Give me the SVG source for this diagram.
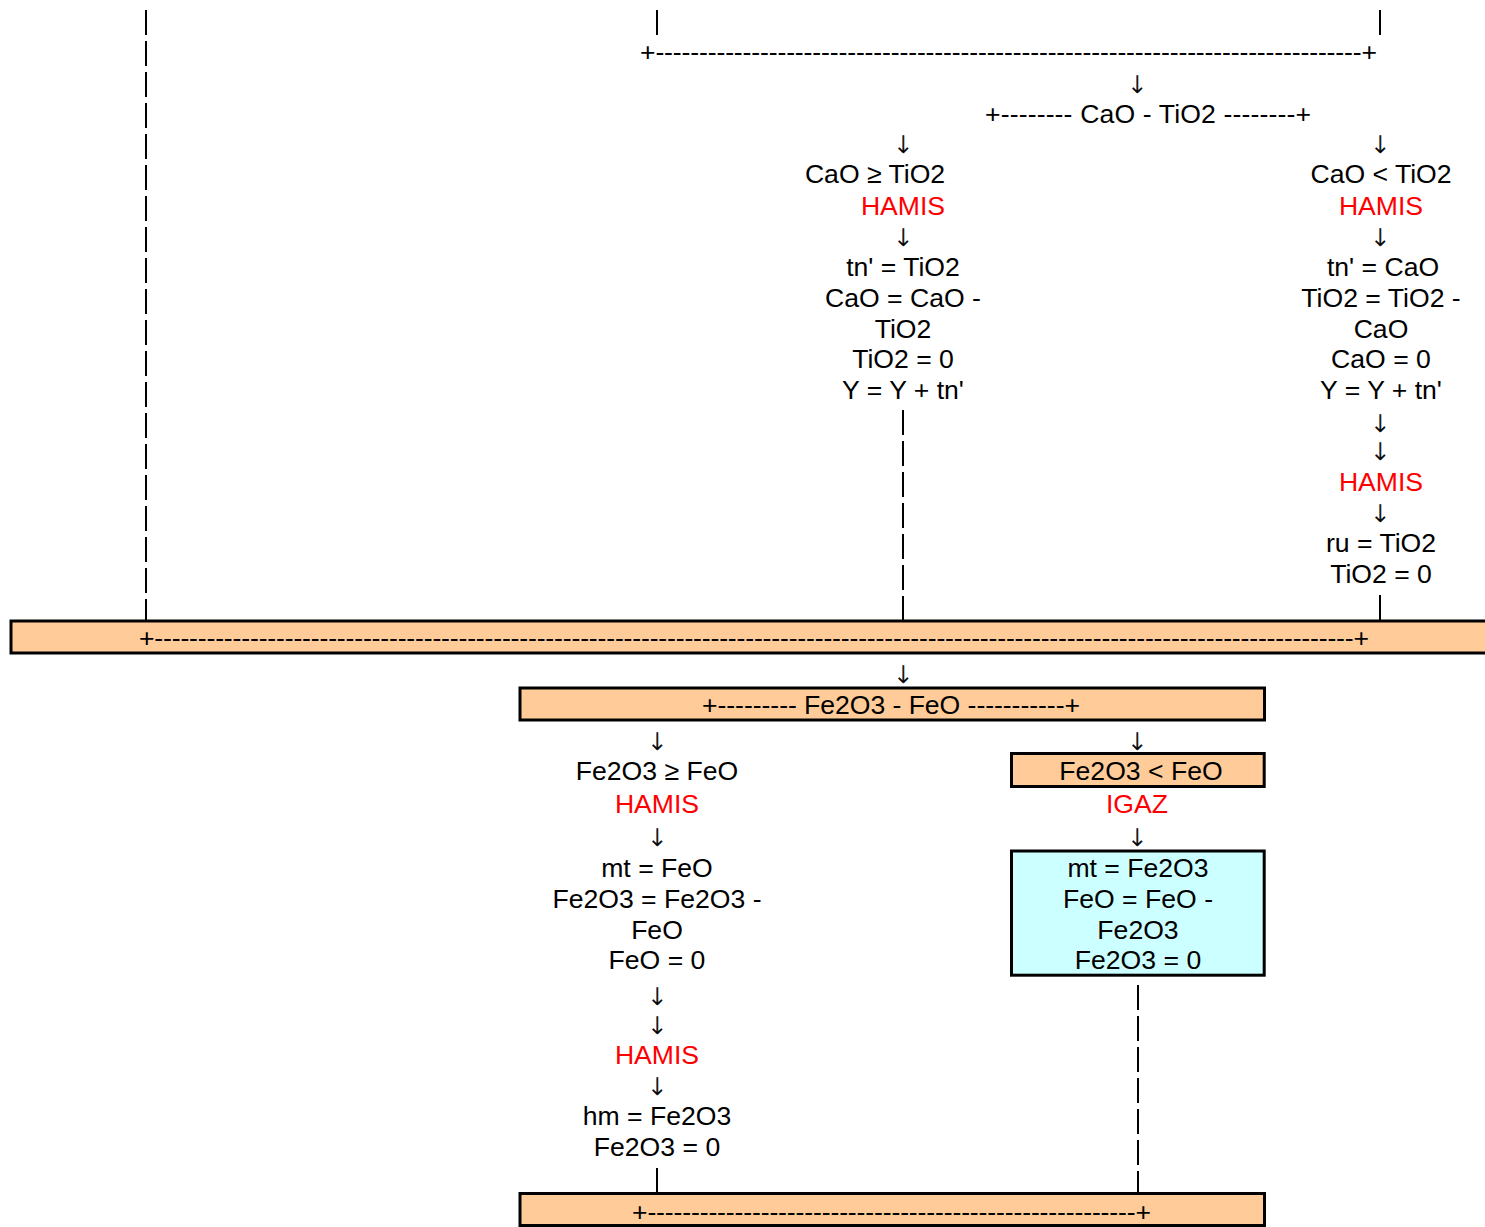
<svg xmlns="http://www.w3.org/2000/svg" width="1485" height="1227" viewBox="0 0 1485 1227">
<style>
text{font-family:"Liberation Sans",Arial,sans-serif;font-size:26.6px;fill:#000;text-anchor:middle}
.r{fill:#FF0000}
.l{text-anchor:start}
.a{font-family:"DejaVu Sans",sans-serif;font-size:24px;font-weight:200;fill:#000;stroke:#000;stroke-width:0.5}
.bar{stroke:#000;stroke-width:2;stroke-dasharray:25 6;fill:none}
.ob{fill:#FFCC99;stroke:#000;stroke-width:3}
.cb{fill:#CCFFFF;stroke:#000;stroke-width:3}
</style>
<rect width="1485" height="1227" fill="#fff"/>
<g id="connectors">
<line class="bar" x1="146" y1="10" x2="146" y2="620"/>
<line class="bar" x1="657" y1="10" x2="657" y2="35"/>
<line class="bar" x1="1380" y1="10" x2="1380" y2="35"/>
<line class="bar" x1="903" y1="410" x2="903" y2="620"/>
<line class="bar" x1="1380" y1="595" x2="1380" y2="620"/>
<line class="bar" x1="657" y1="1168" x2="657" y2="1193"/>
<line class="bar" x1="1138" y1="985" x2="1138" y2="1193"/>
<text class="a" x="1137" y="93">↓</text>
<text class="a" x="903" y="153">↓</text>
<text class="a" x="1380" y="153">↓</text>
<text class="a" x="903" y="246">↓</text>
<text class="a" x="1380" y="246">↓</text>
<text class="a" x="1380" y="432">↓</text>
<text class="a" x="1380" y="460">↓</text>
<text class="a" x="1380" y="522">↓</text>
<text class="a" x="903" y="683">↓</text>
<text class="a" x="657" y="750">↓</text>
<text class="a" x="1137" y="750">↓</text>
<text class="a" x="657" y="846">↓</text>
<text class="a" x="1137" y="846">↓</text>
<text class="a" x="657" y="1005">↓</text>
<text class="a" x="657" y="1034">↓</text>
<text class="a" x="657" y="1095">↓</text>
<text class="l" x="640" y="61" textLength="737" lengthAdjust="spacing">+---------------------------------------------------------------------------------+</text>
</g>
<g id="n-cao-tio2">
<text class="l" x="985" y="123" textLength="326" lengthAdjust="spacing">+-------- CaO - TiO2 --------+</text>
</g>
<g id="n-cao-ge">
<text x="875" y="183">CaO ≥ TiO2</text>
<text class="r" x="903" y="215">HAMIS</text>
</g>
<g id="n-cao-ge-calc">
<text x="903" y="276">tn' = TiO2</text>
<text x="903" y="307">CaO = CaO -</text>
<text x="903" y="338">TiO2</text>
<text x="903" y="368">TiO2 = 0</text>
<text x="903" y="399">Y = Y + tn'</text>
</g>
<g id="n-cao-lt">
<text x="1381" y="183">CaO &lt; TiO2</text>
<text class="r" x="1381" y="215">HAMIS</text>
</g>
<g id="n-cao-lt-calc">
<text x="1383" y="276">tn' = CaO</text>
<text x="1381" y="307">TiO2 = TiO2 -</text>
<text x="1381" y="338">CaO</text>
<text x="1381" y="368">CaO = 0</text>
<text x="1381" y="399">Y = Y + tn'</text>
</g>
<g id="n-ru">
<text class="r" x="1381" y="491">HAMIS</text>
<text x="1381" y="552">ru = TiO2</text>
<text x="1381" y="583">TiO2 = 0</text>
</g>
<g id="n-join1">
<rect class="ob" x="11" y="621" width="1490" height="32"/>
<text class="l" x="139" y="647" textLength="1230" lengthAdjust="spacing">+------------------------------------------------------------------------------------------------------------------------------------------+</text>
</g>
<g id="n-fe-split">
<rect class="ob" x="520" y="688" width="744.5" height="32"/>
<text class="l" x="702" y="714" textLength="378" lengthAdjust="spacing">+--------- Fe2O3 - FeO -----------+</text>
</g>
<g id="n-fe-ge">
<text x="657" y="780">Fe2O3 ≥ FeO</text>
<text class="r" x="657" y="813">HAMIS</text>
</g>
<g id="n-fe-ge-calc">
<text x="657" y="877">mt = FeO</text>
<text x="657" y="908">Fe2O3 = Fe2O3 -</text>
<text x="657" y="939">FeO</text>
<text x="657" y="969">FeO = 0</text>
</g>
<g id="n-hm">
<text class="r" x="657" y="1064">HAMIS</text>
<text x="657" y="1125">hm = Fe2O3</text>
<text x="657" y="1156">Fe2O3 = 0</text>
</g>
<g id="n-fe-lt">
<rect class="ob" x="1011.5" y="753.5" width="252.7" height="33"/>
<text x="1141" y="780">Fe2O3 &lt; FeO</text>
<text class="r" x="1137" y="813">IGAZ</text>
</g>
<g id="n-fe-lt-calc">
<rect class="cb" x="1011.5" y="851" width="252.7" height="124.2"/>
<text x="1138" y="877">mt = Fe2O3</text>
<text x="1138" y="908">FeO = FeO -</text>
<text x="1138" y="939">Fe2O3</text>
<text x="1138" y="969">Fe2O3 = 0</text>
</g>
<g id="n-join2">
<rect class="ob" x="520" y="1193.5" width="744.5" height="32"/>
<text class="l" x="632" y="1221" textLength="519" lengthAdjust="spacing">+--------------------------------------------------------+</text>
</g>
</svg>
